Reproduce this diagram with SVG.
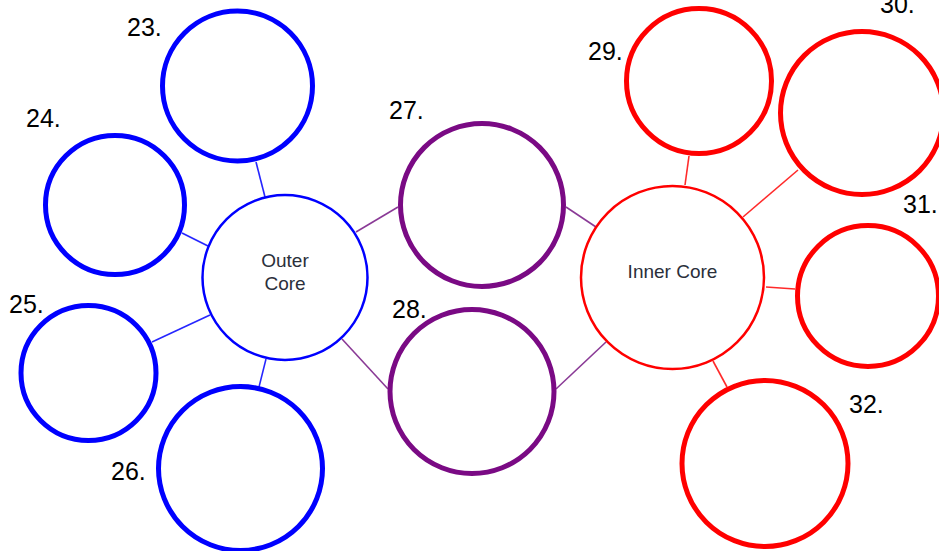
<svg xmlns="http://www.w3.org/2000/svg" width="939" height="551" viewBox="0 0 939 551">
<style>
.bg{fill:#ffffff}
.n{fill:#ffffff}
.blue{stroke:#0000ff}
.purple{stroke:#7a0a84}
.red{stroke:#ff0000}
.thick{stroke-width:5}
.thin{stroke-width:2.5}
.c{stroke-width:1.6;fill:none}
.cb{stroke:#2626ff}
.cp{stroke:#8a3a96}
.cr{stroke:#ff2a2a}
.lbl{font-family:"Liberation Sans",Arial,sans-serif;font-size:25px;fill:#000000}
.core{font-family:"Liberation Sans",Arial,sans-serif;font-size:19px;fill:#2b2f3a;text-anchor:middle}
</style>
<rect class="bg" x="0" y="0" width="939" height="551"/>
<g id="connectors">
<line class="c cb" x1="256" y1="162" x2="265" y2="197"/>
<line class="c cb" x1="182" y1="233" x2="208" y2="246"/>
<line class="c cb" x1="152" y1="342" x2="210" y2="315"/>
<line class="c cb" x1="259" y1="387" x2="266" y2="359"/>
<line class="c cp" x1="356" y1="232" x2="398" y2="207"/>
<line class="c cp" x1="342" y1="339" x2="388" y2="389"/>
<line class="c cp" x1="566" y1="207" x2="596" y2="227"/>
<line class="c cp" x1="556" y1="389" x2="606" y2="342"/>
<line class="c cr" x1="689" y1="156" x2="685" y2="185"/>
<line class="c cr" x1="798" y1="170" x2="743" y2="217"/>
<line class="c cr" x1="766" y1="287" x2="795" y2="289"/>
<line class="c cr" x1="713" y1="361" x2="727" y2="387"/>
</g>
<g id="outer-core">
<circle class="n blue thin" cx="285" cy="277.5" r="82.5"/>
<text class="core" x="285" y="266.5">Outer</text>
<text class="core" x="285" y="289.5">Core</text>
</g>
<g id="inner-core">
<circle class="n red thin" cx="672.5" cy="277.5" r="91.5"/>
<text class="core" x="672.5" y="278">Inner Core</text>
</g>
<g id="n23">
<circle class="n blue thick" cx="237.5" cy="86" r="75"/>
<text class="lbl" x="127" y="36">23.</text>
</g>
<g id="n24">
<circle class="n blue thick" cx="115" cy="205" r="69.5"/>
<text class="lbl" x="26" y="127">24.</text>
</g>
<g id="n25">
<circle class="n blue thick" cx="88.5" cy="373" r="67.5"/>
<text class="lbl" x="9" y="313">25.</text>
</g>
<g id="n26">
<circle class="n blue thick" cx="240.5" cy="468.5" r="82"/>
<text class="lbl" x="111" y="480">26.</text>
</g>
<g id="n27">
<circle class="n purple thick" cx="482" cy="205" r="81.5"/>
<text class="lbl" x="389" y="119">27.</text>
</g>
<g id="n28">
<circle class="n purple thick" cx="472" cy="391.5" r="82"/>
<text class="lbl" x="392" y="318">28.</text>
</g>
<g id="n29">
<circle class="n red thick" cx="699" cy="81" r="72.5"/>
<text class="lbl" x="588" y="60">29.</text>
</g>
<g id="n30">
<circle class="n red thick" cx="862" cy="113" r="81.5"/>
<text class="lbl" x="880" y="13">30.</text>
</g>
<g id="n31">
<circle class="n red thick" cx="868" cy="296" r="70.5"/>
<text class="lbl" x="903" y="213">31.</text>
</g>
<g id="n32">
<circle class="n red thick" cx="765" cy="463.5" r="83"/>
<text class="lbl" x="849" y="413">32.</text>
</g>
</svg>
